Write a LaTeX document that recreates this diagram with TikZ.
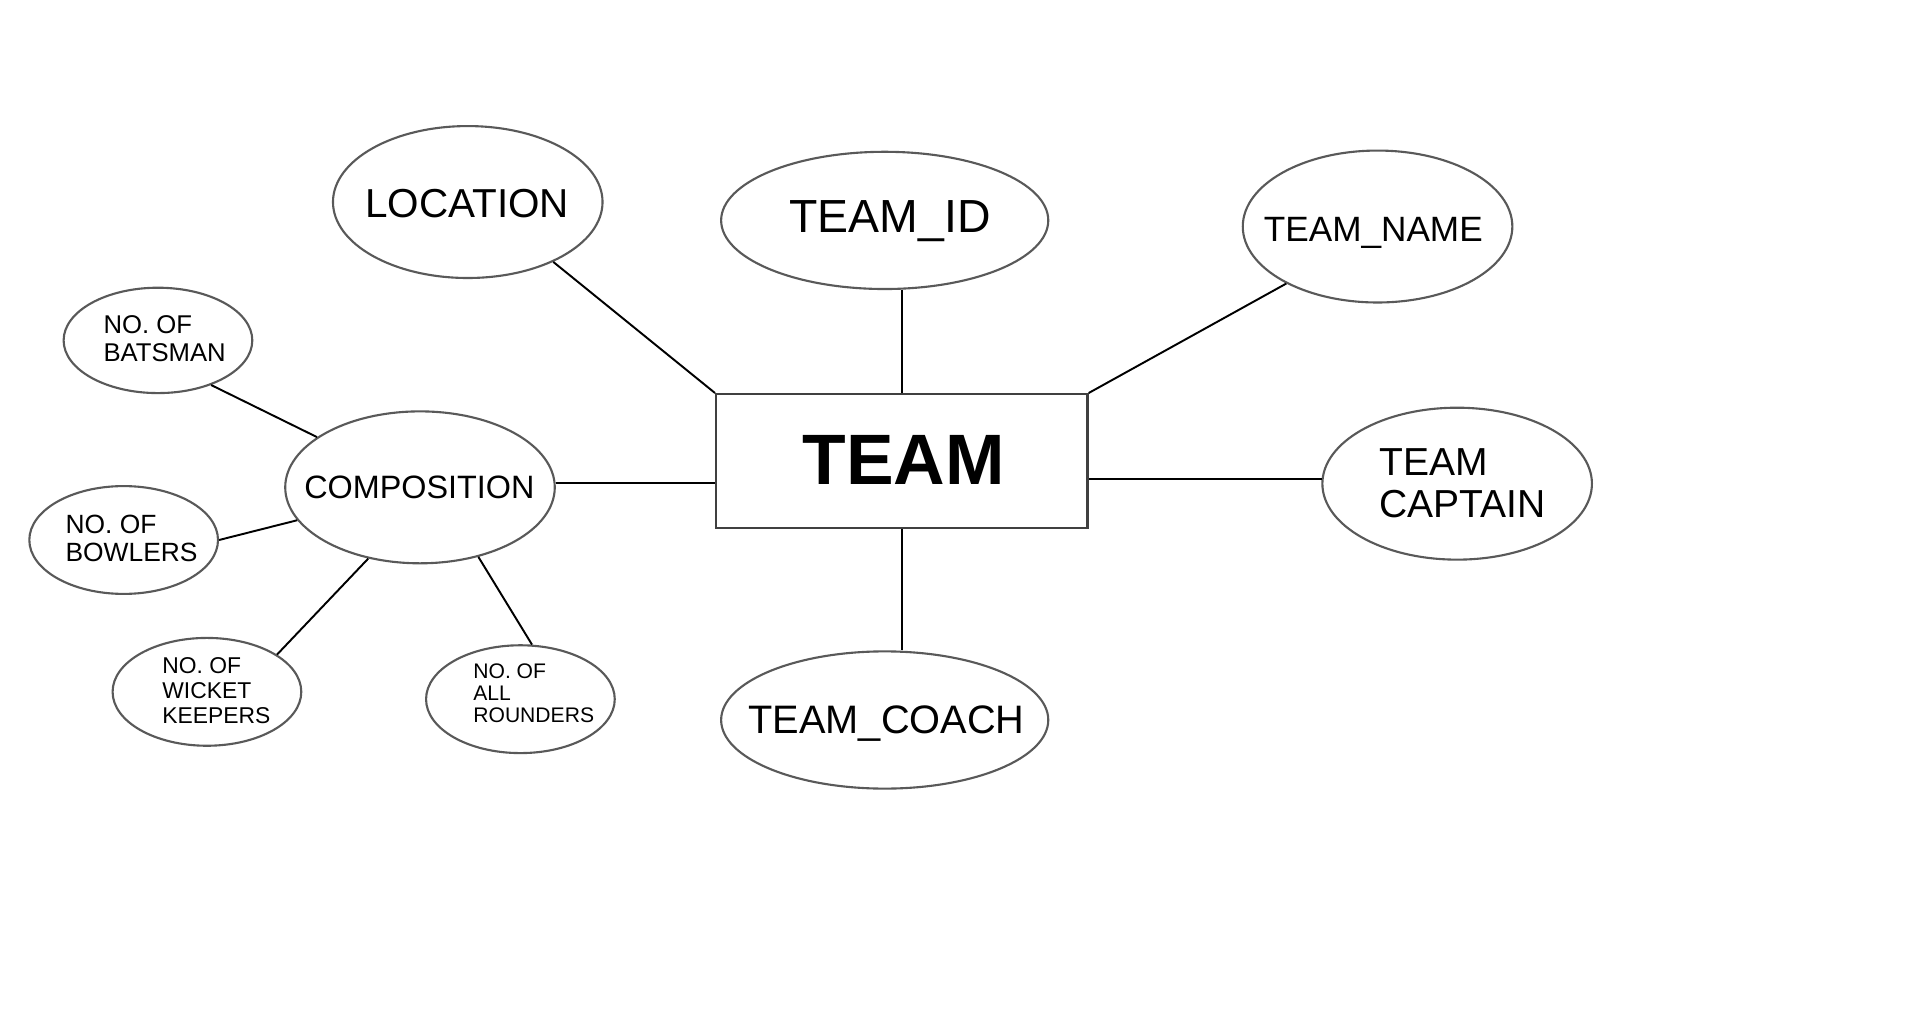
\documentclass[tikz,border=0pt]{standalone}
\usepackage{fontspec}
\setmainfont{Liberation Sans}
\usetikzlibrary{shapes.geometric}
\tikzset{
  attr/.style={ellipse, draw=black!65, line width=0.6pt, inner sep=0pt, fill=white},
  bigattr/.style={attr, minimum width=220*0.3484pt, minimum height=124*0.3484pt},
  wideattr/.style={attr, minimum width=267*0.3484pt, minimum height=112*0.3484pt},
  smallattr/.style={attr, minimum width=154*0.3484pt, minimum height=88*0.3484pt},
  entitybox/.style={rectangle, draw=black!75, line width=0.7pt, inner sep=0pt, minimum width=303*0.3484pt, minimum height=109*0.3484pt},
  lbl/.style={inner sep=0pt, anchor=base},
  mlbl/.style={inner sep=0pt, align=left, anchor=west},
  conn/.style={draw=black, line width=0.55pt},
}
\begin{document}
\begin{tikzpicture}[x=0.012245cm, y=-0.012245cm]
\useasboundingbox[fill=white] (0,0) rectangle (1568,838);

% entity
\node[entitybox] (team) at (736.5,376.5) {};
\node[lbl, font=\fontsize{20.3}{24}\selectfont\bfseries] (teamt) at (738,396) {TEAM};

% attributes
\node[bigattr] (loc) at (382,165) {};
\node[lbl, font=\fontsize{11.5}{14}\selectfont] (loct) at (381.5,177.5) {LOCATION};

\node[wideattr] (tid) at (722.5,180) {};
\node[lbl, font=\fontsize{13.2}{16}\selectfont] (tidt) at (727,190) {TEAM\_ID};

\node[bigattr] (tname) at (1125,185) {};
\node[lbl, font=\fontsize{10}{12}\selectfont] (tnamet) at (1121.5,197.5) {TEAM\_NAME};

\node[bigattr] (cap) at (1190,395) {};
\node[mlbl, font=\fontsize{11.1}{11.9}\selectfont] (capt) at (1126,395) {TEAM\\CAPTAIN};

\node[wideattr] (coach) at (722.5,588) {};
\node[lbl, font=\fontsize{11.3}{14}\selectfont] (coacht) at (724,599) {TEAM\_COACH};

\node[bigattr] (comp) at (343,398) {};
\node[lbl, font=\fontsize{9.2}{11}\selectfont] (compt) at (342.5,407) {COMPOSITION};

% sub-attributes of composition
\node[smallattr, minimum height=86*0.3484pt] (bat) at (129,278) {};
\node[mlbl, font=\fontsize{7.3}{8}\selectfont] (batt) at (84,276.5) {NO. OF\\BATSMAN};

\node[smallattr] (bowl) at (101,441) {};
\node[mlbl, font=\fontsize{7.5}{8}\selectfont] (bowlt) at (53,439.5) {NO. OF\\BOWLERS};

\node[smallattr] (wick) at (169,565) {};
\node[mlbl, font=\fontsize{6.5}{7}\selectfont] (wickt) at (132,564) {NO. OF\\WICKET\\KEEPERS};

\node[smallattr] (round) at (425,571) {};
\node[mlbl, font=\fontsize{6.0}{6.3}\selectfont] (roundt) at (386,566) {NO. OF\\ALL\\ROUNDERS};

% connectors
\draw[conn] (loc.-35) -- (team.north west);
\draw[conn] (team.north) -- (team.north |- tid.south);
\draw[conn] (tname.212) -- (team.north east);
\draw[conn] (cap.178) -- (cap.178 -| team.east);
\draw[conn] (team.south) -- (team.south |- coach.north);
\draw[conn] (comp.2) -- (comp.2 -| team.west);
\draw[conn] (bat.-40) -- (comp.154);
\draw[conn] (bowl.east) -- (comp.-165);
\draw[conn] (wick.28) -- (comp.-126.6);
\draw[conn] (round.78) -- (comp.-50);
\end{tikzpicture}
\end{document}
